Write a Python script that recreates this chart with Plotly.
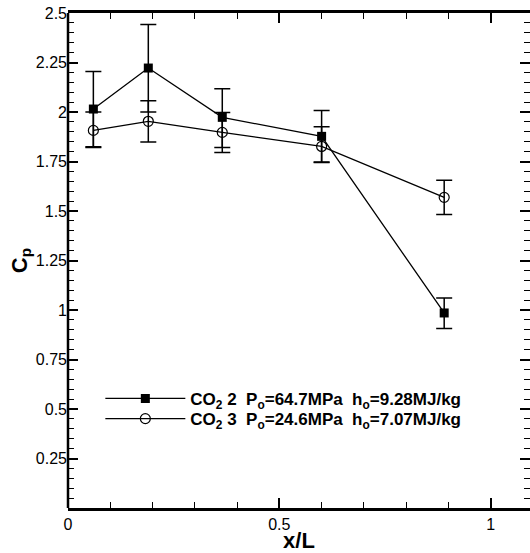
import plotly.graph_objects as go

# Axial station x/L shared by both test conditions
x_over_L = [0.06, 0.19, 0.365, 0.60, 0.89]

# CO2 condition 2 (filled squares)
cp_co2_2 = [2.015, 2.222, 1.973, 1.877, 0.985]
err_up_2 = [0.19, 0.22, 0.145, 0.13, 0.075]
err_dn_2 = [0.19, 0.222, 0.152, 0.13, 0.078]

# CO2 condition 3 (open circles)
cp_co2_3 = [1.907, 1.953, 1.897, 1.826, 1.569]
err_up_3 = [0.093, 0.104, 0.101, 0.10, 0.086]
err_dn_3 = [0.086, 0.104, 0.101, 0.081, 0.087]

label_2 = "CO<sub>2</sub> 2&nbsp;&nbsp;P<sub>o</sub>=64.7MPa&nbsp;&nbsp;h<sub>o</sub>=9.28MJ/kg"
label_3 = "CO<sub>2</sub> 3&nbsp;&nbsp;P<sub>o</sub>=24.6MPa&nbsp;&nbsp;h<sub>o</sub>=7.07MJ/kg"

y_tick_vals = [0.25, 0.5, 0.75, 1, 1.25, 1.5, 1.75, 2, 2.25, 2.5]
y_tick_text = ["0.25", "0.5", "0.75", "1", "1.25", "1.5", "1.75", "2", "2.25", "2.5"]
x_tick_vals = [0, 0.5, 1]
x_tick_text = ["0", "0.5", "1"]

FONT = "Liberation Sans, Arial, sans-serif"

fig = go.Figure()

fig.add_trace(go.Scatter(
    x=x_over_L, y=cp_co2_2, name=label_2, mode="lines+markers", legend="legend",
    line=dict(color="black", width=1.3),
    marker=dict(symbol="square", size=9, color="black"),
    error_y=dict(type="data", symmetric=False, array=err_up_2, arrayminus=err_dn_2,
                 color="black", thickness=1.5, width=8),
))
fig.add_trace(go.Scatter(
    x=x_over_L, y=cp_co2_3, name=label_3, mode="lines+markers", legend="legend2",
    line=dict(color="black", width=1.3),
    marker=dict(symbol="circle-open", size=10, color="black", line=dict(width=1.2)),
    error_y=dict(type="data", symmetric=False, array=err_up_3, arrayminus=err_dn_3,
                 color="black", thickness=1.5, width=8),
))

# left frame edge (the right edge falls just outside the page)
fig.add_shape(type="line", xref="paper", yref="paper", x0=0, x1=0, y0=0, y1=1,
              line=dict(color="black", width=2.5))

legend_style = dict(
    xanchor="left", yanchor="middle",
    bgcolor="rgba(0,0,0,0)", borderwidth=0,
    font=dict(family=FONT, size=17, color="black", weight="bold"),
    itemwidth=80,
)

fig.update_layout(
    width=530, height=553,
    margin=dict(l=68, r=0, t=13, b=45),
    paper_bgcolor="white", plot_bgcolor="white",
    font=dict(family=FONT, size=16, color="black"),
    showlegend=True,
    legend=dict(x=0.07, y=0.2205, **legend_style),
    legend2=dict(x=0.07, y=0.1797, **legend_style),
)

fig.update_xaxes(
    range=[0, 1.093], tickvals=x_tick_vals, ticktext=x_tick_text,
    showgrid=False, zeroline=False,
    showline=True, linecolor="black", linewidth=2.5, mirror="ticks",
    ticks="inside", ticklen=10, tickwidth=2, tickcolor="black",
    minor=dict(dtick=0.1, tick0=0, ticks="inside", ticklen=6, tickwidth=1, tickcolor="black"),
    title=dict(text="<b>x/L</b>", font=dict(family=FONT, size=22), standoff=2),
)
fig.update_yaxes(
    range=[0, 2.5], tickvals=y_tick_vals, ticktext=y_tick_text,
    showgrid=False, zeroline=False,
    showline=False, mirror="ticks",
    ticks="inside", ticklen=10, tickwidth=2, tickcolor="black",
    minor=dict(dtick=0.05, tick0=0, ticks="inside", ticklen=6, tickwidth=1, tickcolor="black"),
    title=dict(text="<b>C<sub>p</sub></b>", font=dict(family=FONT, size=22), standoff=2),
)

fig.write_html("out.html")
